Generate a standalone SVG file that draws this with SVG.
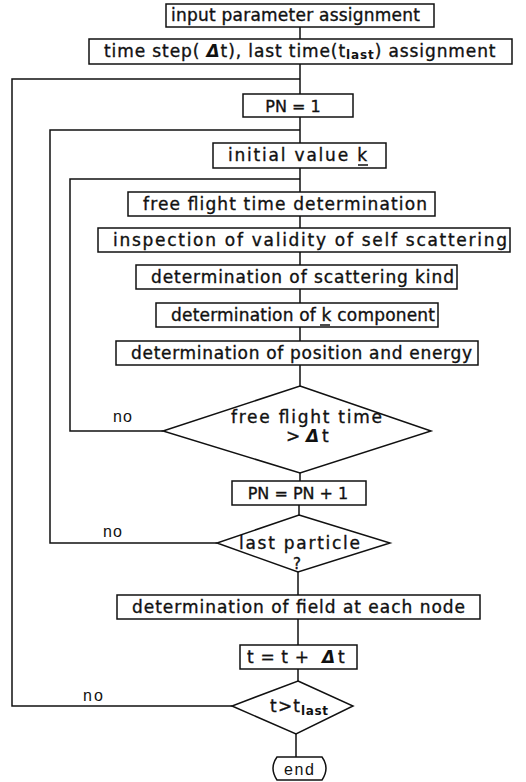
<svg xmlns="http://www.w3.org/2000/svg" width="526" height="782" viewBox="0 0 526 782">
<style>
.bx{fill:#fff;stroke:#111;stroke-width:1.5}
.ln{fill:none;stroke:#111;stroke-width:1.5}
.t{font-family:"DejaVu Sans","Liberation Sans",sans-serif;font-size:17px;fill:#111;stroke:#111;stroke-width:0.35}
.p{font-family:"DejaVu Sans","Liberation Sans",sans-serif;font-size:16px;fill:#111;stroke:#111;stroke-width:0.35;text-anchor:middle}
.s{font-size:12px;font-weight:bold;stroke-width:0}
.d{font-weight:bold;font-style:italic;stroke-width:0}
.n{font-family:"Liberation Sans",Arial,sans-serif;font-size:16px;fill:#111}
</style>
<rect width="526" height="782" fill="#fff"/>
<g id="connectors">
<path class="ln" d="M300 27V39M300 64V94M300 117V143M300 168V192M300 216V228M300 252V265M300 289V303M300 327V341M300 365V386M300 473V481M299 505V515M298 572V595M298 619V645M298 669V681M296 734V757"/>
<path class="ln" d="M163 431H70V179H300"/>
<path class="ln" d="M217 543H50V130H300"/>
<path class="ln" d="M232 706H12V79H300"/>
<text class="n" x="113" y="422" textLength="19">no</text>
<text class="n" x="103" y="537" textLength="19">no</text>
<text class="n" x="83" y="701" textLength="20">no</text>
</g>
<g id="n1"><rect class="bx" x="166" y="4" width="268" height="23"/><text class="t" x="171" y="21" textLength="249">input parameter assignment</text></g>
<g id="n2"><rect class="bx" x="89" y="39" width="423" height="25"/>
<text class="t" x="104" y="57" style="letter-spacing:0.9px">time step( <tspan class="d">Δ</tspan>t), last time(t<tspan class="s" dy="2">last</tspan><tspan dy="-2">) assignment</tspan></text>
</g>
<g id="n3"><rect class="bx" x="243" y="94" width="110" height="23"/><text class="p" x="293" y="112">PN = 1</text></g>
<g id="n4"><rect class="bx" x="213" y="143" width="173" height="25"/><text class="t" x="228" y="161" textLength="139">initial value k</text><line class="ln" x1="358" y1="165" x2="368" y2="165"/></g>
<g id="n5"><rect class="bx" x="128" y="192" width="307" height="24"/><text class="t" x="143" y="210" textLength="284">free flight time determination</text></g>
<g id="n6"><rect class="bx" x="98" y="228" width="412" height="24"/><text class="t" x="113" y="246" textLength="394">inspection of validity of self scattering</text></g>
<g id="n7"><rect class="bx" x="136" y="265" width="321" height="24"/><text class="t" x="151" y="283" textLength="303">determination of scattering kind</text></g>
<g id="n8"><rect class="bx" x="156" y="303" width="282" height="24"/><text class="t" x="171" y="321" textLength="264">determination of k component</text><line class="ln" x1="320" y1="325" x2="330" y2="325"/></g>
<g id="n9"><rect class="bx" x="116" y="341" width="362" height="24"/><text class="t" x="131" y="359" textLength="341">determination of position and energy</text></g>
<g id="n10"><polygon class="bx" points="300,386 431,431 300,473 163,431"/>
<text class="t" x="231" y="423" textLength="151">free flight time</text>
<text class="t" x="286" y="442">&gt;</text><text class="t d" x="306" y="442">Δ</text><text class="t" x="322" y="442">t</text></g>
<g id="n11"><rect class="bx" x="232" y="481" width="134" height="24"/><text class="p" x="298" y="499">PN = PN + 1</text></g>
<g id="n12"><polygon class="bx" points="299,515 390,543 298,572 217,543"/>
<text class="t" x="239" y="549" textLength="121">last particle</text><text class="t" x="293" y="569" style="font-size:15px">?</text></g>
<g id="n13"><rect class="bx" x="117" y="595" width="363" height="24"/><text class="t" x="132" y="613" textLength="333">determination of field at each node</text></g>
<g id="n14"><rect class="bx" x="240" y="645" width="117" height="24"/><text class="t" x="247" y="663" textLength="62">t = t +</text><text class="t d" x="322" y="663">Δ</text><text class="t" x="338" y="663">t</text></g>
<g id="n15"><polygon class="bx" points="298,681 353,706 296,734 232,706"/>
<text class="t" x="270" y="712" textLength="30">t&gt;t</text><text class="t s" x="301" y="715" textLength="27">last</text></g>
<g id="n16"><path class="bx" d="M277 757H322Q330 768 322 780H277Q269 768 277 757Z"/><text class="n" x="284" y="775" textLength="30">end</text></g>
</svg>
